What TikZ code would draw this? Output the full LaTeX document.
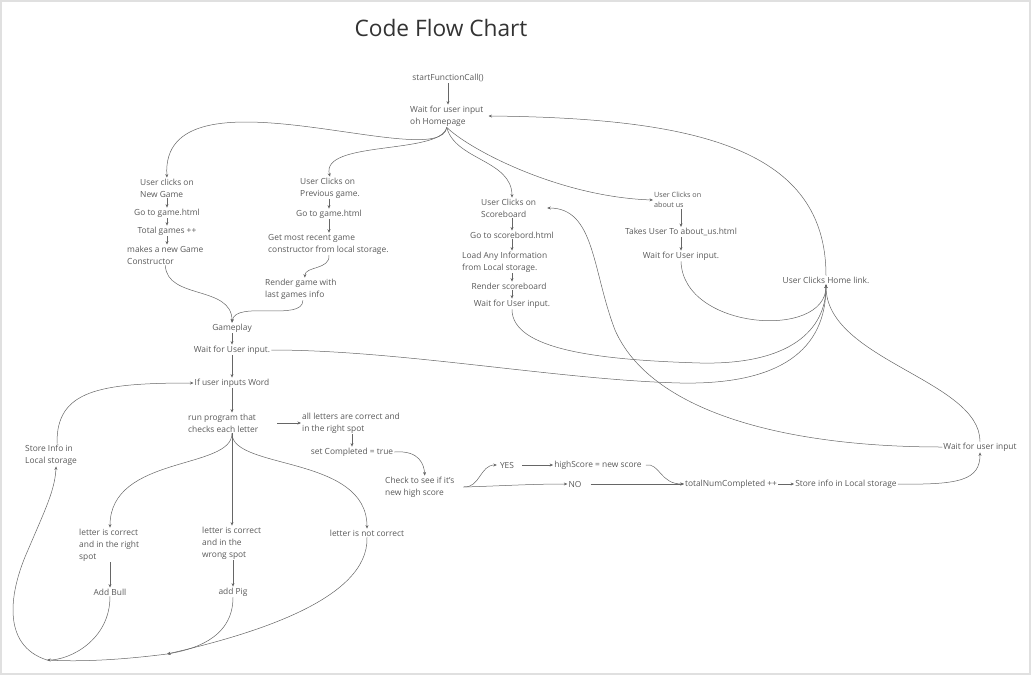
\documentclass[tikz,border=0pt]{standalone}
\usepackage{fontspec}
\setmainfont{Open Sans}
\usetikzlibrary{arrows.meta}

\begin{document}
\begin{tikzpicture}[x=1pt,y=-1pt,
  lbl/.style={font=\fontsize{8.4}{12}\selectfont, text=black!65, inner sep=1pt, align=left},
  small/.style={lbl, font=\fontsize{7.2}{10}\selectfont},
  flow/.style={draw=black!60, line width=0.5pt, -{Stealth[length=3.5pt,width=3pt]}},
  link/.style={draw=black!60, line width=0.5pt}]
  \useasboundingbox (0,0) rectangle (1031,675);
  \draw[black!12, line width=1.5pt] (1,1) rectangle (1030,674);
  \node[font=\fontsize{22.7}{27}\selectfont, text=black!80] (title) at (441,28) {Code Flow Chart};

  \node[lbl] (start) at (448,78) {startFunctionCall()};
  \node[lbl, anchor=west] (home) at (409,116) {Wait for user input\\oh Homepage};
  \node[lbl, anchor=west] (newg) at (139,188) {User clicks on\\New Game};
  \node[lbl] (go1) at (167,213) {Go to game.html};
  \node[lbl] (tot) at (167,231) {Total games ++};
  \node[lbl, anchor=west] (mk) at (126,255) {makes a new Game\\Constructor};
  \node[lbl, anchor=west] (prev) at (299,188) {User Clicks on\\Previous game.};
  \node[lbl] (go2) at (329,214) {Go to game.html};
  \node[lbl, anchor=west] (recent) at (267,244) {Get most recent game\\constructor from local storage.};
  \node[lbl, anchor=west] (render) at (264,289) {Render game with\\last games info};
  \node[lbl] (gameplay) at (232,328) {Gameplay};
  \node[lbl] (waitg) at (232,350) {Wait for User input.};
  \node[lbl] (ifw) at (232,383) {If user inputs Word};
  \node[lbl, anchor=west] (run) at (187,423) {run program that\\checks each letter};
  \node[lbl, anchor=west] (all) at (301,423) {all letters are correct and\\in the right spot};
  \node[lbl] (setc) at (352,452) {set Completed = true};
  \node[lbl, anchor=west] (check) at (384,487) {Check to see if it's\\new high score};
  \node[lbl] (yes) at (507,465) {YES};
  \node[lbl] (hs) at (598,465) {highScore = new score};
  \node[lbl] (no) at (575,484) {NO};
  \node[lbl] (tnc) at (731,484) {totalNumCompleted ++};
  \node[lbl] (store) at (846,484) {Store info in Local storage};
  \node[lbl] (waitu) at (980,447) {Wait for user input};
  \node[lbl, anchor=west] (bull) at (78,545) {letter is correct\\and in the right\\spot};
  \node[lbl, anchor=west] (pig) at (201,543) {letter is correct\\and in the\\wrong spot};
  \node[lbl] (notc) at (367,533) {letter is not correct};
  \node[lbl] (addb) at (110,592) {Add Bull};
  \node[lbl] (addp) at (233,592) {add Pig};
  \node[lbl, anchor=west] (storel) at (24,455) {Store Info in\\Local storage};
  \node[lbl, anchor=west] (score) at (480,208) {User Clicks on\\Scoreboard};
  \node[lbl] (gosb) at (512,235) {Go to scorebord.html};
  \node[lbl, anchor=west] (load) at (461,262) {Load Any Information\\from Local storage.};
  \node[lbl] (rsb) at (509,286) {Render scoreboard};
  \node[lbl] (wsb) at (512,304) {Wait for User input.};
  \node[small, anchor=west] (about) at (653,200) {User Clicks on\\about us};
  \node[lbl] (takes) at (681,232) {Takes User To about\_us.html};
  \node[lbl] (wab) at (681,256) {Wait for User input.};
  \node[lbl] (homel) at (826,280) {User Clicks Home link.};
  \coordinate (fork) at (run.south -| ifw.south);
  \coordinate (j1) at (47,660);
  \coordinate (j2) at (167,654);

  \draw[flow] (start.south) -- (start.south |- home.north);
  \draw[flow] (home.south) .. controls (440,175) and (160,60) .. (newg.north);
  \draw[flow] (home.south) .. controls (440,155) and (320,140) .. (prev.north);
  \draw[flow] (home.south) .. controls (455,160) and (512,160) .. (gosb.north |- score.north);
  \draw[flow] (home.south) .. controls (470,150) and (560,197) .. (about.west);
  \draw[flow] (newg.south -| go1.north) -- (go1.north);
  \draw[flow] (go1.south) -- (tot.north);
  \draw[flow] (tot.south) -- (tot.south |- mk.north);
  \draw[flow] (prev.south -| go2.north) -- (go2.north);
  \draw[flow] (go2.south) -- (go2.south |- recent.north);
  \draw[flow] (recent.south -| go2.south) .. controls (330,270) and (305,266) .. ([xshift=4pt]render.north);
  \draw[flow] (mk.south) .. controls (167,300) and (232,285) .. (gameplay.north);
  \draw[flow] ([xshift=2pt]render.south) .. controls (303,322) and (235,300) .. (gameplay.north);
  \draw[flow] (gameplay.south) -- (waitg.north);
  \draw[flow] (waitg.south) -- (ifw.north);
  \draw[flow] (ifw.south) -- (ifw.south |- run.north);
  \draw[flow] ([xshift=18pt]run.east) -- (all.west);
  \draw[flow] (setc.north |- all.south) -- (setc.north);
  \draw[flow] (setc.east) .. controls (420,450) and (424,465) .. ([xshift=5pt]check.north);
  \draw[flow] ([xshift=8pt]check.east) .. controls (480,488) and (480,465) .. ([xshift=-2pt]yes.west);
  \draw[flow] ([xshift=8pt]check.east) .. controls (500,486) and (530,484) .. (no.west);
  \draw[flow] ([xshift=7pt]yes.east) -- (hs.west);
  \draw[flow] ([xshift=3pt]hs.east) .. controls (660,463) and (660,484) .. (tnc.west);
  \draw[flow] ([xshift=8pt]no.east) -- (tnc.west);
  \draw[flow] (tnc.east) -- (store.west);
  \draw[flow] (store.east) .. controls (960,485) and (980,480) .. (waitu.south);
  \draw[flow] (waitu.north) .. controls (980,380) and (826,360) .. (homel.south);
  \draw[flow] (waitu.west) .. controls (780,447) and (650,410) .. (615,330) .. controls (592,270) and (595,208) .. ([xshift=10pt]score.east);
  \draw[flow] (gosb.north |- score.south) -- (gosb.north);
  \draw[flow] (gosb.south) -- (gosb.south |- load.north);
  \draw[flow] (gosb.south |- load.south) -- (gosb.south |- rsb.north);
  \draw[flow] (gosb.south |- rsb.south) -- (gosb.south |- wsb.north);
  \draw[flow] (takes.north |- about.south) -- (takes.north);
  \draw[flow] (takes.south) -- (wab.north);
  \draw[flow] (fork) .. controls (232,470) and (110,455) .. (bull.north -| addb.north);
  \draw[flow] (fork) -- (fork |- pig.north);
  \draw[flow] (fork) .. controls (232,470) and (367,455) .. (notc.north);
  \draw[flow] (bull.south -| addb.north) -- (addb.north);
  \draw[flow] (pig.south -| addp.north) -- (addp.north);
  \draw[flow] (addb.south) .. controls (110,640) and (70,660) .. (j1);
  \draw[flow] (addp.south) .. controls (233,640) and (190,650) .. (j2);
  \draw[flow] (notc.south) .. controls (369,600) and (250,635) .. (j2);
  \draw[link] (j2) .. controls (120,660) and (80,662) .. (j1);
  \draw[flow] (j1) .. controls (0,645) and (10,590) .. (28,550) .. controls (45,510) and (55,490) .. ([xshift=5pt]storel.south);
  \draw[flow] ([xshift=6pt]storel.north) .. controls (56,390) and (100,383) .. (ifw.west);
  \draw[flow] (waitg.east) .. controls (400,350) and (560,380) .. (680,383) .. controls (780,385) and (826,350) .. (homel.south);
  \draw[flow] (wsb.south) .. controls (512,350) and (600,360) .. (700,363) .. controls (790,365) and (826,330) .. (homel.south);
  \draw[flow] (wab.south) .. controls (683,330) and (826,340) .. (homel.south);
  \draw[flow] (homel.north) .. controls (826,150) and (700,118) .. ([xshift=4pt]home.east);
\end{tikzpicture}
\end{document}
